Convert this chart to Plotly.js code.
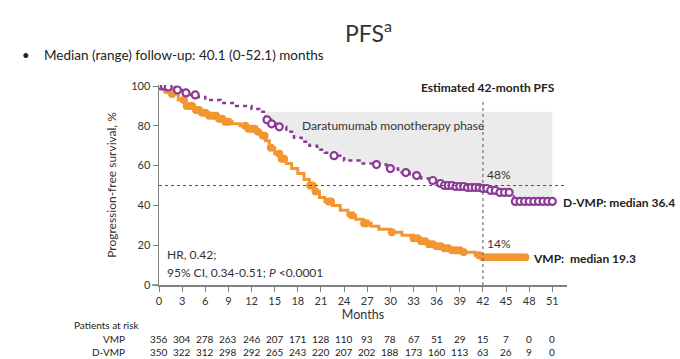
<!DOCTYPE html>
<html><head><meta charset="utf-8">
<script src="https://cdn.plot.ly/plotly-3.0.1.min.js"></script>
<style>html,body{margin:0;padding:0;background:#fff;}#chart{width:680px;height:359px;}</style>
</head><body><div id="chart"></div>
<script>
// ---- data ----
const tickMonths = [0,3,6,9,12,15,18,21,24,27,30,33,36,39,42,45,48,51];
const vmpAtRisk  = [356,304,278,263,246,207,171,128,110,93,78,67,51,29,15,7,0,0];
const dvmpAtRisk = [350,322,312,298,292,265,243,220,207,202,188,173,160,113,63,26,9,0];

const vmpMonths = [0,0.8,1.5,2.5,3.5,4.5,5.5,6.5,7.5,8.5,9.5,10.5,11.5,12.5,13.2,13.8,14.3,15,15.8,16.5,17.2,18,18.8,19.5,20.2,20.8,21.5,22.5,23.5,24.5,25.5,26.5,27.5,28.5,30,31.5,33,34,35,36,37,38,39.5,41,42,47.5];
const vmpPFS    = [100,98,96,93,90,88,86.5,85,83.5,82,81,80,78.5,77,75,72.5,69,66,63.5,61,58.5,56,53,50,47,44,42,40,37.5,35,33,31,29.5,28,26.5,25,23.5,22,20.5,19.5,18.5,17.5,16.5,15,14,14];
const vmpCensor = [0.3,0.6,1,1.3,1.7,3.2,3.6,4,4.3,4.8,5.2,5.6,6,6.5,7,7.4,7.8,8.2,8.6,9,11.2,11.6,12,12.4,12.8,13.5,13.7,14.5,15.6,15.9,16.2,19.6,19.9,20.3,22,22.3,25,26.6,26.9,30.2,33,33.5,34,34.5,35,35.5,36,36.5,37,37.5,38,38.5,39,39.5,41.5,42,42.5,43,43.5,44,44.5,45,45.5,46,46.5,47,47.5];

const dvmpMonths = [0,1,2,3,4,5,6,8,10,12,13,13.8,14.5,15.5,16.5,17.5,18.5,19.5,20.5,21.5,22.5,24,26,28,29.5,31,32.5,34,35,36,37,38.5,40,42,43,44,46,51];
const dvmpPFS    = [100,99.5,98,96.5,95.5,94.5,93,91.5,90,88.5,87,83,81,79.5,77,74,72,70,68,66.5,65,62.5,61,60.5,58.5,56.5,55,53.5,52.5,51,50,49.5,49,48.5,47.5,46.5,42,42];
const dvmpCensor = [0.3,0.7,1.2,2.4,3.5,4.7,14,14.6,15.6,22.7,28.2,30,32,33.4,35.5,36.5,37,37.5,38,38.5,39,39.5,40,40.5,41,41.5,42,42.5,43,43.6,44.2,44.8,45.4,46.2,46.8,47.4,48,48.6,49.2,49.8,50.4,51];

const monoStart = 13, monoEnd = 51, monoTop = 87;

function stepAt(xs, ys, t){ let v = ys[0]; for(let i=0;i<xs.length;i++){ if(xs[i] <= t) v = ys[i]; } return v; }

const ORANGE = '#f39530', PURPLE = '#8b3a96';
const FONT = 'Lato, "Open Sans", sans-serif';

// shaded region (daratumumab monotherapy phase) between top line and D-VMP curve
const shX = [], shY = [];
for(let i=0;i<dvmpMonths.length;i++){ if(dvmpMonths[i] >= monoStart && dvmpMonths[i] <= monoEnd){ shX.push(dvmpMonths[i]); shY.push(dvmpPFS[i]); } }

const traces = [
  {x: shX, y: shY, mode:'lines', line:{width:0, shape:'hv'}, hoverinfo:'skip', showlegend:false},
  {x:[monoStart, monoEnd], y:[monoTop, monoTop], mode:'lines', line:{width:0}, fill:'tonexty', fillcolor:'#ebebeb', hoverinfo:'skip', showlegend:false},
  {x: vmpMonths, y: vmpPFS, mode:'lines', line:{color:ORANGE, width:3, shape:'hv'}, showlegend:false},
  {x: vmpCensor, y: vmpCensor.map(t=>stepAt(vmpMonths,vmpPFS,t)), mode:'markers', marker:{color:ORANGE, size:8, symbol:'circle'}, showlegend:false},
  {x: dvmpMonths, y: dvmpPFS, mode:'lines', line:{color:PURPLE, width:2.5, shape:'hv', dash:'4px,4px'}, showlegend:false},
  {x: dvmpCensor, y: dvmpCensor.map(t=>stepAt(dvmpMonths,dvmpPFS,t)), mode:'markers', marker:{color:'#ffffff', size:7, symbol:'circle', line:{color:PURPLE, width:2.2}}, showlegend:false}
];

const W = 408, H = 200;
const px = p => (p-159)/W, py = p => (285-p)/H;

const ann = [];
function A(o){ o.showarrow = false; if(!o.xanchor) o.xanchor='center'; if(!o.yanchor) o.yanchor='middle'; ann.push(o); }
A({xref:'paper', yref:'paper', x:px(368), y:py(31), text:'PFS<sup>a</sup>', font:{size:23, color:'#333', family:FONT}});
A({xref:'paper', yref:'paper', x:px(20), y:py(55), xanchor:'left', text:'•', font:{size:13, color:'#222', family:FONT}});
A({xref:'paper', yref:'paper', x:px(42), y:py(55), xanchor:'left', text:'Median (range) follow-up: 40.1 (0-52.1) months', font:{size:13.5, color:'#222', family:FONT}});
A({xref:'paper', yref:'paper', x:px(488), y:py(87), text:'<b>Estimated 42-month PFS</b>', font:{size:12, color:'#222', family:FONT}});
A({xref:'x', yref:'y', x:30.3, y:80.3, text:'Daratumumab monotherapy phase', font:{size:12, color:'#333', family:FONT}});
A({xref:'x', yref:'y', x:42.3, y:55.5, xanchor:'left', text:'48%', font:{size:12, color:'#333', family:FONT}});
A({xref:'x', yref:'y', x:42.3, y:21, xanchor:'left', text:'14%', font:{size:12, color:'#333', family:FONT}});
A({xref:'paper', yref:'paper', x:px(561), y:py(202), xanchor:'left', text:'<b>D-VMP: median 36.4</b>', font:{size:12, color:'#222', family:FONT}});
A({xref:'paper', yref:'paper', x:px(531), y:py(258), xanchor:'left', text:'<b>VMP:  median 19.3</b>', font:{size:12, color:'#222', family:FONT}});
A({xref:'x', yref:'y', x:0.8, y:15.5, xanchor:'left', text:'HR, 0.42;', font:{size:12, color:'#333', family:FONT}});
A({xref:'x', yref:'y', x:0.8, y:6.3, xanchor:'left', text:'95% CI, 0.34-0.51; <i>P</i> <0.0001', font:{size:12, color:'#333', family:FONT}});
A({xref:'paper', yref:'paper', x:px(72), y:py(325), xanchor:'left', text:'Patients at risk', font:{size:10, color:'#222', family:FONT}});
A({xref:'paper', yref:'paper', x:px(127), y:py(339), xanchor:'right', text:'VMP', font:{size:10, color:'#222', family:FONT}});
A({xref:'paper', yref:'paper', x:px(127), y:py(352), xanchor:'right', text:'D-VMP', font:{size:10, color:'#222', family:FONT}});
tickMonths.forEach((m,i)=>{
  A({xref:'x', yref:'paper', x:m, y:py(339), text:String(vmpAtRisk[i]), font:{size:10, color:'#222', family:FONT}});
  A({xref:'x', yref:'paper', x:m, y:py(352), text:String(dvmpAtRisk[i]), font:{size:10, color:'#222', family:FONT}});
});

const shapes = [
  {type:'line', xref:'x', yref:'y', x0:0, x1:52.8, y0:50, y1:50, line:{color:'#555', width:1, dash:'3px,3px'}, layer:'above'},
  {type:'line', xref:'x', yref:'y', x0:42, x1:42, y0:0, y1:93.5, line:{color:'#555', width:1, dash:'3px,3px'}, layer:'above'},
  {type:'line', xref:'paper', yref:'paper', x0:px(152), x1:px(159), y0:0, y1:0, line:{color:'#808080', width:1.5}}
];

const layout = {
  width:680, height:359,
  margin:{l:159, r:680-567, t:285-H, b:359-285},
  paper_bgcolor:'#fff', plot_bgcolor:'rgba(0,0,0,0)',
  font:{family:FONT, color:'#333'},
  xaxis:{range:[0,52.9], tickvals:tickMonths, ticktext:tickMonths.map(String), ticks:'outside', ticklen:5, tickcolor:'#808080', tickwidth:1,
         showline:true, linecolor:'#808080', linewidth:1.5, showgrid:false, zeroline:false, tickfont:{size:11, color:'#333', family:FONT},
         title:{text:'Months', font:{size:12.5, color:'#333', family:FONT}, standoff:2}},
  yaxis:{range:[0,100.5], tickvals:[0,20,40,60,80,100], ticks:'outside', ticklen:5, tickcolor:'#808080', tickwidth:1,
         showline:true, linecolor:'#808080', linewidth:1.5, showgrid:false, zeroline:false, tickfont:{size:11, color:'#333', family:FONT},
         title:{text:'Progression-free survival, %', font:{size:12, color:'#333', family:FONT}, standoff:12}},
  annotations: ann, shapes: shapes, showlegend:false
};
Plotly.newPlot('chart', traces, layout, {staticPlot:true, displayModeBar:false});
</script></body></html>
